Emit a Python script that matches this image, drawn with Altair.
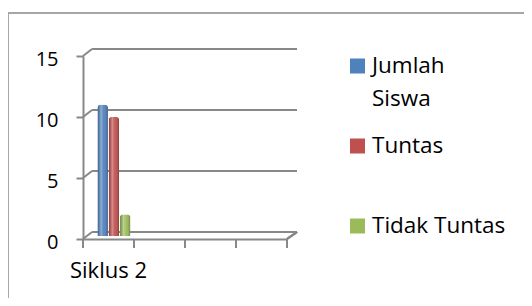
import altair as alt
import pandas as pd

# ---- data ----
categories = ["Siklus 2", " ", "  ", "   "]          # 4 category slots, only the first is labelled
series = ["Jumlah Siswa", "Tuntas", "Tidak Tuntas"]
values = [11, 10, 2]
colors = ["#4F81BD", "#C0504D", "#9BBB59"]
y_ticks = [0, 5, 10, 15]
legend_text = ["Jumlah\nSiswa", "Tuntas", "Tidak Tuntas"]

# ---- layout / style ----
W, H = 204, 183
DX, DY = 9, -7
GRID = "#888888"
FONT = "Open Sans"

bars_df = pd.DataFrame({"category": [categories[0]] * len(series), "series": series, "value": values})
grid_df = pd.DataFrame({"v": y_ticks})
tick_df = pd.DataFrame({"pos": list(range(len(categories) + 1))})
legend_df = pd.DataFrame({"series": series, "label": legend_text})

yscale = alt.Scale(domain=[0, 15], nice=False, zero=True)
xscale = alt.Scale(domain=categories, paddingInner=0, paddingOuter=0)
offscale = alt.Scale(domain=series, paddingOuter=0.8, paddingInner=0.06, align=0.8)
cscale = alt.Scale(domain=series, range=colors)

x_enc = alt.X("category:N", scale=xscale, sort=categories,
              axis=alt.Axis(title=None, labelAngle=0, ticks=False, domainColor=GRID, domainWidth=2,
                            labelFont=FONT, labelFontSize=22, labelColor="#000000", labelPadding=21,
                            labelFontWeight="normal"))
xo_enc = alt.XOffset("series:N", scale=offscale, sort=series)
y_enc = alt.Y("value:Q", scale=yscale,
              axis=alt.Axis(title=None, values=y_ticks, grid=False, domainColor=GRID, domainWidth=2,
                            tickColor=GRID, tickWidth=2, tickSize=7, labelFont=FONT, labelFontSize=20,
                            labelColor="#000000", labelPadding=18, labelOffset=3))

bar_props = dict(yOffset=-3, y2Offset=-3, cornerRadiusTopLeft=3, cornerRadiusTopRight=3)

bars = alt.Chart(bars_df).mark_bar(**bar_props).encode(
    x=x_enc, xOffset=xo_enc, y=y_enc,
    color=alt.Color("series:N", scale=cscale, legend=None),
)
shade = alt.Chart(bars_df).mark_bar(
    **bar_props,
    fill={"gradient": "linear", "x1": 0, "x2": 1, "y1": 0, "y2": 0,
          "stops": [{"offset": 0, "color": "rgba(0,0,0,0.25)"},
                    {"offset": 0.35, "color": "rgba(255,255,255,0.35)"},
                    {"offset": 0.6, "color": "rgba(255,255,255,0.05)"},
                    {"offset": 1, "color": "rgba(0,0,0,0.3)"}]},
).encode(x=x_enc, xOffset=xo_enc, y=y_enc)
bar_layer = alt.layer(bars, shade)

grid_back = alt.Chart(grid_df).mark_rule(
    color=GRID, strokeWidth=2, xOffset=DX, x2Offset=DX, yOffset=DY, y2Offset=DY
).encode(y=alt.Y("v:Q", scale=yscale, axis=None), x=alt.value(0), x2=alt.value(W + 1))

grid_diag = alt.Chart(grid_df).mark_rule(color=GRID, strokeWidth=2, y2Offset=DY).encode(
    y=alt.Y("v:Q", scale=yscale, axis=None), y2=alt.Y2("v"), x=alt.value(0), x2=alt.value(DX)
)

floor_diag = alt.Chart(grid_df).mark_rule(color=GRID, strokeWidth=2).encode(
    x=alt.value(W), x2=alt.value(W + DX + 1), y=alt.value(H), y2=alt.value(H + DY)
)

xticks = alt.Chart(tick_df).mark_rule(color=GRID, strokeWidth=2).encode(
    x=alt.X("pos:Q", scale=alt.Scale(domain=[0, len(categories)], nice=False, zero=False), axis=None),
    y=alt.value(H), y2=alt.value(H + 9),
)

border_top = alt.Chart(grid_df).mark_rule(color="#A6A6A6", strokeWidth=1.5).encode(
    x=alt.value(-75), x2=alt.value(460), y=alt.value(-43)
)
border_left = alt.Chart(grid_df).mark_rule(color="#A6A6A6", strokeWidth=1.5).encode(
    x=alt.value(-75), y=alt.value(-43), y2=alt.value(260)
)

leg_y = alt.Y("series:N", sort=series, scale=alt.Scale(domain=series, range=[10, 170], padding=0), axis=None)
leg_sq = alt.Chart(legend_df).mark_square(size=225, opacity=1).encode(
    x=alt.value(274.5), y=leg_y, color=alt.Color("series:N", scale=cscale, legend=None)
)
leg_tx = alt.Chart(legend_df).mark_text(
    align="left", baseline="alphabetic", dy=7, lineBreak="\n", lineHeight=33,
    font=FONT, fontSize=22.5, color="#000000"
).encode(x=alt.value(289), y=leg_y, text="label:N")
legend = alt.layer(leg_sq, leg_tx)

chart = alt.layer(
    border_top, border_left, grid_back, grid_diag, floor_diag, xticks, bar_layer, legend
).resolve_scale(x="independent", y="independent", color="independent").properties(
    width=W, height=H,
    padding={"left": 75, "top": 48, "right": 237, "bottom": 59},
    autosize=alt.AutoSizeParams(type="none"),
).configure_view(stroke=None)

chart.save("out.html", embed_options={"renderer": "svg", "actions": False})
